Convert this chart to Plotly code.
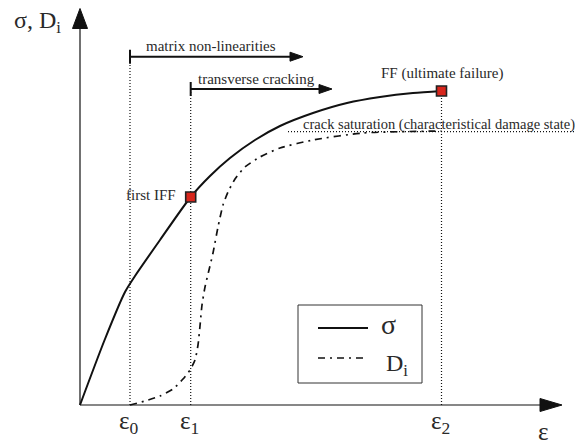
import plotly.graph_objects as go

# ---------------- data (arbitrary units: strain on x, stress / damage on y) ----------------
eps_names = ["ε<sub>0</sub>", "ε<sub>1</sub>", "ε<sub>2</sub>"]
eps_vals = [50, 110.7, 361.5]

strain_sigma = [0, 25, 45, 55, 80, 110.7, 130, 150, 175, 200, 233, 267, 300, 333, 361.5]
sigma = [0, 66, 113, 129, 165, 208, 229, 247, 265, 279, 292, 302, 308, 312, 314]

strain_D = [50, 65, 80, 93, 103, 110, 115, 118, 120, 122, 125, 129, 133, 138, 143, 148, 155,
            165, 180, 200, 233, 283, 361.5]
damage = [0, 4, 9, 16, 26, 35, 45, 60, 79, 100, 118, 135, 152, 178, 200, 213, 226,
          238, 248, 257, 265, 272, 274]

saturation_level = 273.3
saturation_start = 208

first_iff = (110.7, 208)
ff_point = (361.5, 314)

matrix_arrow = dict(x0=50, x1=223, y=348.3, text="matrix non-linearities")
transverse_arrow = dict(x0=110.7, x1=252, y=316, text="transverse cracking")

FONT = "Liberation Serif"
INK = "#111111"
TXT = "#2a2a2a"
RED = "#d8261c"

fig = go.Figure()


def tri(tip, base_len, half_w, direction):
    x, y = tip
    if direction == "right":
        xs = [x, x - base_len, x - base_len, x]
        ys = [y, y + half_w, y - half_w, y]
    else:  # up
        xs = [x, x - half_w, x + half_w, x]
        ys = [y, y - base_len, y - base_len, y]
    fig.add_trace(go.Scatter(x=xs, y=ys, mode="lines", fill="toself", fillcolor=INK,
                             line=dict(color=INK, width=1), hoverinfo="skip", showlegend=False))


def seg(xs, ys, width=1.0, dash="solid", color=INK):
    fig.add_trace(go.Scatter(x=xs, y=ys, mode="lines", line=dict(color=color, width=width, dash=dash),
                             hoverinfo="skip", showlegend=False))


# axes
seg([0, 0], [0, 380], 1.2)
seg([0, 462], [0, 0], 1.2)
tri((0, 396.5), 20, 7.5, "up")
tri((482, 0), 22, 6.5, "right")

# dotted guides
DOT = "1px,2px"
seg([eps_vals[0], eps_vals[0]], [0, matrix_arrow["y"]], 1.2, DOT)
seg([eps_vals[1], eps_vals[1]], [0, transverse_arrow["y"]], 1.2, DOT)
seg([eps_vals[2], eps_vals[2]], [0, ff_point[1]], 1.2, DOT)
seg([saturation_start, 503], [saturation_level, saturation_level], 1.2, DOT)

# range arrows
for a in (matrix_arrow, transverse_arrow):
    seg([a["x0"], a["x1"] - 11], [a["y"], a["y"]], 2)
    seg([a["x0"], a["x0"]], [a["y"] - 7, a["y"] + 7], 2)
    tri((a["x1"], a["y"]), 13, 4.5, "right")

# curves
fig.add_trace(go.Scatter(x=strain_sigma, y=sigma, mode="lines", name="σ",
                         line=dict(color=INK, width=2, shape="spline", smoothing=0.7),
                         showlegend=False))
fig.add_trace(go.Scatter(x=strain_D, y=damage, mode="lines", name="D<sub>i</sub>",
                         line=dict(color=INK, width=1.7, shape="spline", smoothing=0.6,
                                   dash="7px,5px,2px,5px"),
                         showlegend=False))

# failure markers
fig.add_trace(go.Scatter(x=[first_iff[0], ff_point[0]], y=[first_iff[1], ff_point[1]], mode="markers",
                         marker=dict(symbol="square", size=10, color=RED,
                                     line=dict(color="#222222", width=1.6)),
                         showlegend=False, cliponaxis=False))

# legend box (drawn)
fig.add_shape(type="rect", x0=218, x1=342, y0=22, y1=100, line=dict(color="#333333", width=1))
seg([238, 288], [77, 77], 2)
seg([238, 288], [47, 47], 1.7, "7px,5px,2px,5px")

ann = []


def text(x, y, s, size=15, xanchor="center"):
    ann.append(dict(x=x, y=y, text=s, showarrow=False, xanchor=xanchor, yanchor="middle",
                    font=dict(family=FONT, size=size, color=TXT)))


text(299, 81, "σ", 28, "left")
text(304, 40, "D<sub>i</sub>", 24, "left")

text(130.5, 358.7, matrix_arrow["text"])
text(176.5, 326.4, transverse_arrow["text"])
text(ff_point[0], 331.4, "FF (ultimate failure)")
text(497, 280.5, "crack saturation (characteristical damage state)", 14.5, "right")
text(98, 210.4, "first IFF", 15, "right")

for v, n in zip(eps_vals, eps_names):
    text(v - 1, -17, n, 25)
text(463, -26, "ε", 25)
text(-68, 383, "σ, D<sub>i</sub>", 24, "left")

# the page adds an 8px body margin, so the figure is 8px smaller and its ranges start 8px later
fig.update_layout(
    width=575, height=436,
    margin=dict(l=0, r=0, t=0, b=0),
    paper_bgcolor="white", plot_bgcolor="white",
    xaxis=dict(range=[-72, 503], visible=False, fixedrange=True),
    yaxis=dict(range=[-39, 397], visible=False, fixedrange=True),
    annotations=ann,
    showlegend=False,
)

fig.write_html("out.html")
